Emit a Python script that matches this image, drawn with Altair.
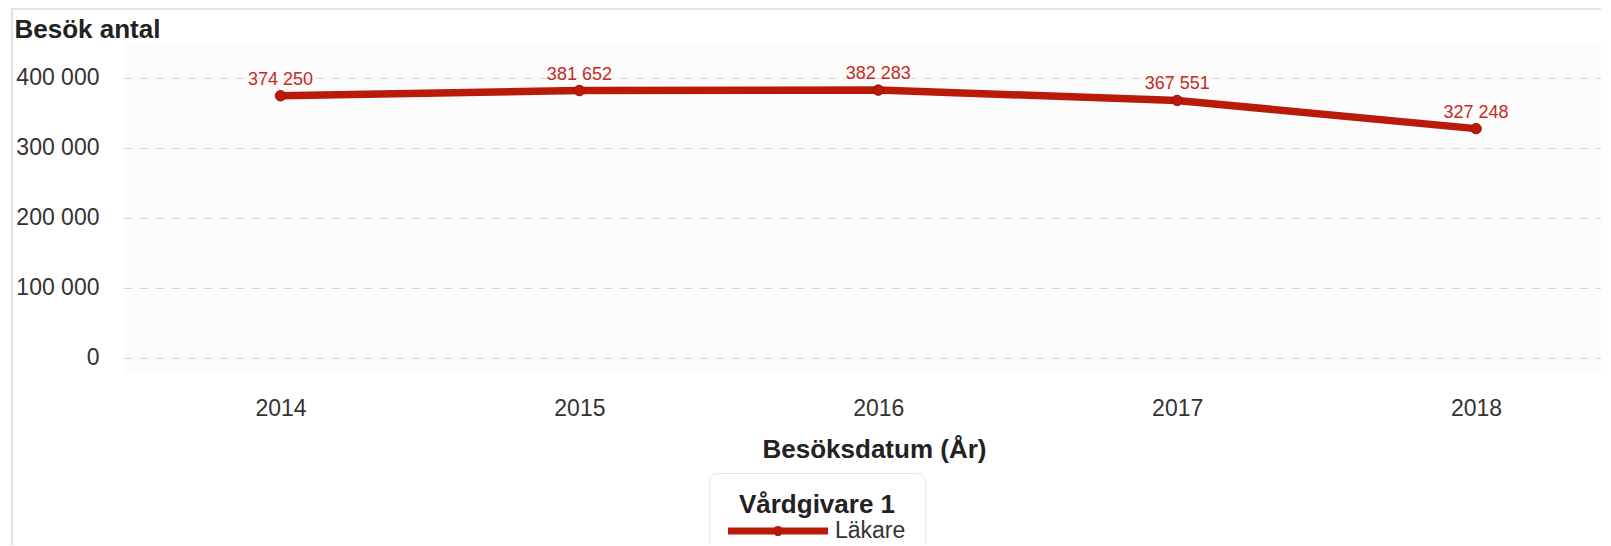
import altair as alt
import pandas as pd

years = [2014, 2015, 2016, 2017, 2018]
visits = [374250, 381652, 382283, 367551, 327248]
series = ["Läkare"] * 5
y_ticks = [0, 100000, 200000, 300000, 400000]

RED = "#b91a0a"
LABEL_RED = "#c42b22"
FONT = "Liberation Sans"

# legend glyph: wide line with a dot in the middle (unit coords, scaled by sqrt(size)/2)
LEGEND_GLYPH = (
    "M-1,-0.292H7.333V0.292H-1Z "
    "M3.5833,0A0.4167,0.4167 0 1,1 2.75,0A0.4167,0.4167 0 1,1 3.5833,0Z"
)

df = pd.DataFrame({
    "year": years,
    "visits": visits,
    "series": series,
    "label": [f"{v:,}".replace(",", " ") for v in visits],
})

x_enc = alt.X(
    "year:Q",
    scale=alt.Scale(domain=[2013.473, 2018.418], nice=False, zero=False),
    axis=alt.Axis(
        values=years, format="d", grid=False, domain=False, ticks=False, tickSize=0,
        labelFontSize=23, labelFont=FONT, labelColor="#333", labelPadding=42,
        labelBaseline="alphabetic",
        title="Besöksdatum (År)", titleFontSize=26, titleFont=FONT, titleFontWeight="bold",
        titleColor="#222", titleX=751, titleY=84, titleBaseline="alphabetic",
        titleAlign="center",
    ),
)
y_enc = alt.Y(
    "visits:Q",
    scale=alt.Scale(domain=[-21857, 451000], nice=False, zero=False),
    axis=alt.Axis(
        values=y_ticks, grid=True, gridDash=[9, 7], gridColor="#d9d9d9", gridWidth=1.2,
        domain=False, ticks=False, tickSize=0,
        labelExpr="replace(format(datum.value, ','), ',', ' ')",
        labelFontSize=23, labelFont=FONT, labelColor="#333", labelPadding=24,
        labelBaseline="middle",
        title="Besök antal", titleAngle=0, titleAlign="left", titleBaseline="alphabetic",
        titleX=-109, titleY=-5, titleFontSize=26, titleFont=FONT, titleFontWeight="bold",
        titleColor="#222",
    ),
)

base = alt.Chart(df)

line = base.mark_line(strokeWidth=7.5, strokeCap="round", color=RED).encode(
    x=x_enc,
    y=y_enc,
)

points = base.mark_circle(size=110, opacity=1, stroke="#a01000", strokeWidth=1).encode(
    x="year:Q",
    y="visits:Q",
    color=alt.Color(
        "series:N",
        scale=alt.Scale(range=[RED]),
        legend=alt.Legend(
            title="Vårdgivare 1", orient="none", legendX=586, legendY=431,
            direction="vertical", fillColor="white", strokeColor="#e8e8e8",
            cornerRadius=8, padding=19,
            titleFontSize=26, titleFont=FONT, titleFontWeight="bold", titleColor="#222",
            titleAnchor="middle", titleAlign="center", titlePadding=1,
            labelFontSize=23, labelFont=FONT, labelColor="#333", labelOffset=83,
            symbolType=LEGEND_GLYPH, symbolSize=576, symbolStrokeWidth=0,
            symbolOpacity=1,
        ),
    ),
)

labels = base.mark_text(
    dy=-7, baseline="bottom", fontSize=18, font=FONT, color=LABEL_RED
).encode(x="year:Q", y="visits:Q", text="label:N")

frame = alt.Chart(alt.Data(values=[{"a": 1}])).mark_rect(
    fillOpacity=0, stroke="#e2e2e2", strokeWidth=2, clip=False
).encode(
    x=alt.value(-111), x2=alt.value(1700), y=alt.value(-33), y2=alt.value(700)
)

chart = alt.layer(frame, line, points, labels).properties(
    width=1478, height=331,
    padding={"left": 115, "top": 34, "right": 0, "bottom": 172},
    autosize="none",
).configure_view(fill="#fcfcfc", stroke="transparent")

chart.save("out.html", embed_options={"renderer": "svg", "actions": False})
